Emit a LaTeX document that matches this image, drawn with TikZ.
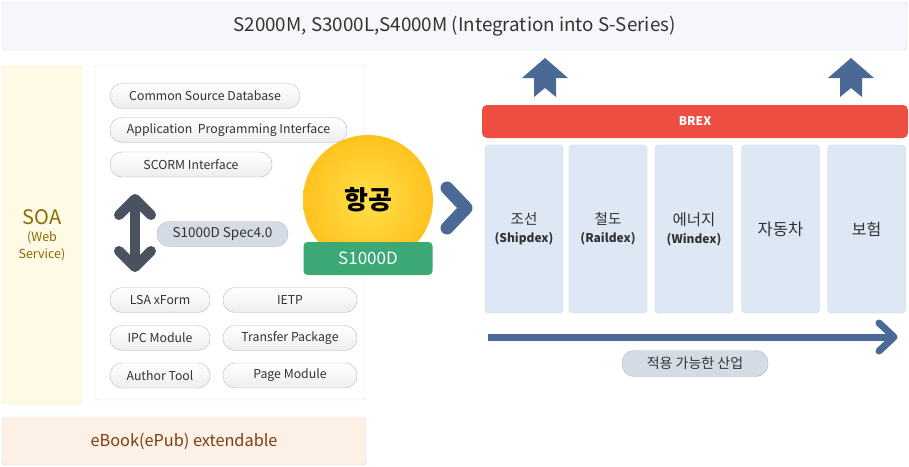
\documentclass[tikz,border=0pt]{standalone}
\usepackage{fontspec}
\setmainfont{Noto Sans CJK KR}
\usetikzlibrary{shapes.misc}

\definecolor{bannerbg}{HTML}{F5F7FA}
\definecolor{bannerline}{HTML}{D3D9E0}
\definecolor{soabg}{HTML}{FFFAE6}
\definecolor{soaline}{HTML}{F3E3AE}
\definecolor{soatext}{HTML}{8C6A00}
\definecolor{panelline}{HTML}{D9DDE2}
\definecolor{pillline}{HTML}{B5B9BE}
\definecolor{specbg}{HTML}{D4DBE5}
\definecolor{darkarrow}{HTML}{4A5260}
\definecolor{steel}{HTML}{4A6994}
\definecolor{brexred}{HTML}{EE4E42}
\definecolor{colbg}{HTML}{DEE8F4}
\definecolor{colline}{HTML}{C3D2E3}
\definecolor{coinlight}{HTML}{FFE04A}
\definecolor{coin}{HTML}{FFC21E}
\definecolor{badge}{HTML}{3BA876}
\definecolor{ebookbg}{HTML}{FDF0E6}
\definecolor{ebookline}{HTML}{EEC4A4}
\definecolor{ebooktext}{HTML}{7B3F12}
\definecolor{txt}{HTML}{333333}

\begin{document}
\begin{tikzpicture}[x=1pt,y=-1pt,
                     pill/.style={draw=pillline,rounded corners=12pt,top color=white,
                       bottom color=gray!14,minimum height=25,inner sep=0,
                       text=txt,font=\fontsize{12.3}{14}\selectfont},
                     grey pill/.style={pill,top color=specbg,bottom color=specbg},
                     industry/.style={draw=colline,fill=colbg,rounded corners=4,
                       minimum width=78,minimum height=168,align=center,text=txt},
                     plainbox/.style={rounded corners=3,inner sep=0}]
                     \useasboundingbox (0,0) rectangle (909,466);
                     % top banner
                     \node[plainbox,draw=bannerline,fill=bannerbg,minimum width=905,minimum height=48,
                       text=txt,font=\fontsize{18.8}{21}\selectfont] (series) at (454.5,26)
                       {S2000M, S3000L,S4000M (Integration into S-Series)};
                     % left side
                     \node[plainbox,draw=soaline,fill=soabg,minimum width=80,minimum height=338,
                       align=center,text=soatext,font=\fontsize{12.5}{17}\selectfont] (soa) at (42,235)
                       {{\fontsize{20}{23}\selectfont SOA}\\(Web\\Service)};
                     \node[plainbox,draw=panelline,fill=white,minimum width=270,minimum height=335] (panel) at (230,232.5) {};
                     \node[pill,minimum width=190] (csdb) at (205,96) {Common Source Database};
                     \node[pill,minimum width=237] (api) at (228.5,130) {Application~ Programming Interface};
                     \node[pill,minimum width=162] (scorm) at (191,164.5) {SCORM Interface};
                     \node[grey pill,minimum width=131,font=\fontsize{13.5}{15}\selectfont] (spec) at (222.5,234) {S1000D Spec4.0};
                     \foreach \y/\l/\r [count=\i] in {300/LSA xForm/IETP,338/IPC Module/Transfer Package,375.5/Author Tool/Page Module}{
                       \node[pill,minimum width=100] (left\i) at (160,\y) {\l};
                       \node[pill,minimum width=134] (right\i) at (290,\y) {\r};
                     }
                     \begin{scope}[darkarrow,line width=10,line cap=round,line join=round]
                       \draw (119,215) -- (135,199) -- (151,215);
                       \draw (135,200) -- (135,265);
                       \draw (119,251) -- (135,267) -- (151,251);
                     \end{scope}
                     \node[plainbox,draw=ebookline,fill=ebookbg,minimum width=364,minimum height=47,
                       text=ebooktext,font=\fontsize{16.3}{19}\selectfont] (ebook) at (184,441.5) {eBook(ePub) extendable};
                     % aviation coin
                     \node[circle,minimum size=130,inner color=coinlight,outer color=coin,
                       text=black,font=\fontsize{26}{30}\selectfont\bfseries] (coin) at (368,200) {\raisebox{4pt}{항공}};
                     \node[plainbox,rounded corners=4,fill=badge,minimum width=129,minimum height=33,
                       text=white,font=\fontsize{17}{19}\selectfont] (s1000d) at (368,258.5) {S1000D};
                     \draw[steel,line width=13,line cap=round,line join=round] (447,188) -- (466,208) -- (447,228);
                     % right side
                     \foreach \ax in {545,851}{
                       \fill[steel] (\ax,58) -- ++(23,20) -- ++(-12,0) -- ++(0,19) -- ++(-11,-9)
                         -- ++(-11,9) -- ++(0,-19) -- ++(-12,0) -- cycle;
                     }
                     \node[plainbox,rounded corners=5,fill=brexred,minimum width=426,minimum height=33,
                       text=white,font=\fontsize{12}{14}\selectfont\bfseries] (brex) at (695,121.5) {BREX};
                     \node[industry,font=\fontsize{14.5}{18}\selectfont] (ship) at (524,229)
                       {조선\\{\fontsize{12}{14}\selectfont\bfseries (Shipdex)}};
                     \node[industry,font=\fontsize{14.5}{18}\selectfont] (rail) at (608,229)
                       {철도\\{\fontsize{12}{14}\selectfont\bfseries (Raildex)}};
                     \node[industry,font=\fontsize{15.5}{18}\selectfont] (energy) at (694,229)
                       {에너지\\{\fontsize{12}{14}\selectfont\bfseries (Windex)}};
                     \node[industry,font=\fontsize{16.5}{18}\selectfont] (car) at (780.5,229) {자동차};
                     \node[industry,font=\fontsize{16}{18}\selectfont] (insure) at (866.5,229) {보험};
                     \coordinate (flow start) at (488,337);
                     \coordinate (flow end) at (894,337);
                     \draw[steel,line width=7] (flow start) -- (flow end);
                     \draw[steel,line width=7,line cap=round,line join=round] (879,323) -- (flow end) -- (879,351);
                     \node[grey pill,minimum width=146,minimum height=26,font=\fontsize{14}{16}\selectfont] (applied) at (695,363.5) {적용 가능한 산업};
                   \end{tikzpicture}
\end{document}
